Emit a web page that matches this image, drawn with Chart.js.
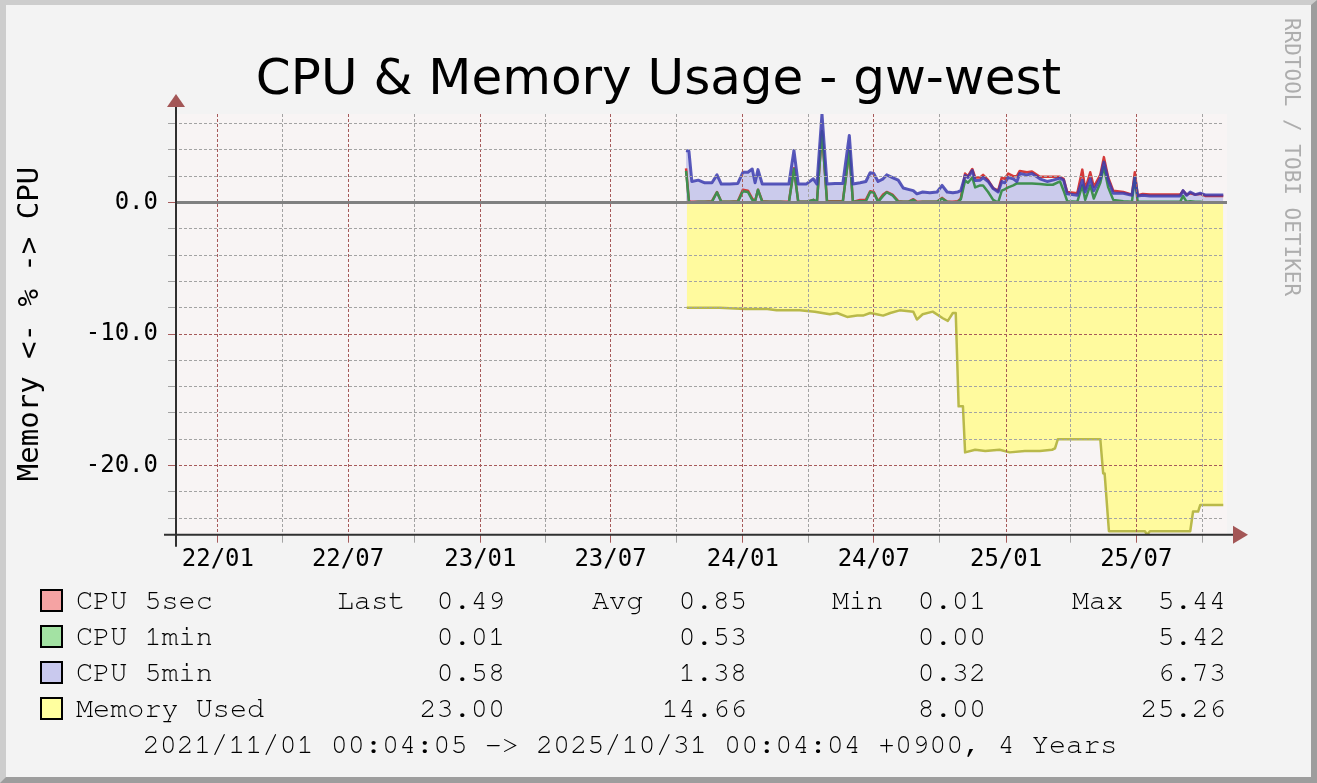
<!DOCTYPE html>
<html>
<head>
<meta charset="utf-8">
<title>CPU &amp; Memory Usage - gw-west</title>
<script src="https://cdn.jsdelivr.net/npm/chart.js@4.4.1/dist/chart.umd.min.js"></script>
<style>
  html, body { margin: 0; padding: 0; }
  body { width: 1317px; height: 783px; overflow: hidden; background: #f3f3f3; position: relative; }
  #frame {
    position: absolute; left: 0; top: 0; width: 1305px; height: 772px;
    border-style: solid; border-width: 5px 6px 6px 6px;
    border-color: #cdcdcd #9d9d9d #9d9d9d #cdcdcd; background: #f3f3f3;
  }
  #c { position: absolute; left: 0; top: 0; }
  .txt { position: absolute; white-space: pre; color: #000; }
  .title { left: 0; width: 1317px; top: 48px; height: 60px; line-height: 60px; text-align: center;
    font: 50px "DejaVu Sans", sans-serif; }
  .ylabel { left: -169px; top: 304px; width: 400px; height: 40px; line-height: 40px; text-align: center;
    font: 29px "DejaVu Sans Mono", monospace; transform: rotate(-90deg); }
  .wmark { left: 1084px; top: 137px; width: 400px; height: 40px; line-height: 40px; text-align: center;
    font: 21px "DejaVu Sans Mono", monospace; color: #adadad; transform: rotate(90deg); }
  .leg { font-size: 28.5px; font-family: "Nimbus Mono PS", "Nimbus Mono L", "FreeMono", "Courier New", "Courier", "Liberation Mono", monospace;
    height: 36px; line-height: 36px; }
  .sw { position: absolute; width: 19px; height: 19px; border: 2.5px solid #000; }
</style>
</head>
<body>
<div id="frame"></div>
<canvas id="c" width="1317" height="783"></canvas>
<div class="txt title">CPU &amp; Memory Usage - gw-west</div>
<div class="txt ylabel">Memory &lt;- % -&gt; CPU</div>
<div class="txt wmark">RRDTOOL / TOBI OETIKER</div>
<div id="legend"></div>
<script>
  "use strict";

  // days counted from 2021/11/01
  var xMax = 1460;
  var xMajorTicks = [61, 242, 426, 607, 791, 973, 1157, 1338];
  var xMajorLabels = ['22/01', '22/07', '23/01', '23/07', '24/01', '24/07', '25/01', '25/07'];
  var xMinorTicks = [151, 334, 516, 699, 882, 1065, 1247, 1430];

  var yMin = -25.26, yMax = 6.73;
  var yMajorTicks = [-20, -10, 0];
  var yMinorTicks = [-24, -22, -18, -16, -14, -12, -8, -6, -4, -2, 2, 4, 6];

  var cpuDays = [712, 716, 720, 729, 738, 748, 755, 761, 773, 784, 791, 798, 804, 808, 812, 818, 829, 843, 855, 862,
    868, 879, 889, 894, 901, 908, 919, 930, 939, 944, 954, 962, 968, 973, 979, 986, 991, 999, 1007, 1014,
    1021, 1028, 1033, 1041, 1051, 1061, 1068, 1075, 1083, 1090, 1094, 1100, 1104, 1110, 1114, 1121, 1125, 1132, 1139, 1146,
    1151, 1155, 1160, 1167, 1172, 1176, 1186, 1193, 1204, 1214, 1222, 1232, 1237, 1242, 1256, 1263, 1267, 1274, 1279, 1288,
    1293, 1299, 1306, 1320, 1332, 1336, 1340, 1347, 1357, 1378, 1399, 1403, 1408, 1413, 1420, 1427, 1434, 1459];
  var cpu5min = [3.95, 3.9, 1.6, 1.7, 1.5, 1.5, 2.1, 1.4, 1.4, 1.45, 2.3, 2.3, 2.55, 1.5, 2.5, 1.4, 1.4, 1.4, 1.4, 3.95,
    1.4, 1.4, 1.8, 1.4, 6.73, 1.4, 1.45, 1.45, 5.1, 1.4, 1.5, 1.6, 2.26, 2.2, 1.6, 1.8, 2.1, 1.9, 1.7, 1.1,
    1.0, 0.9, 0.66, 0.8, 0.75, 0.8, 1.3, 0.8, 0.75, 0.8, 0.9, 2.05, 1.9, 2.43, 1.67, 1.7, 1.9, 1.6, 1.06, 0.8,
    1.6, 1.5, 1.9, 1.8, 1.6, 2.2, 2.1, 2.2, 1.8, 1.6, 1.7, 1.85, 1.7, 0.66, 0.55, 1.7, 0.8, 1.8, 0.9, 1.85,
    3.07, 1.7, 0.7, 0.7, 0.55, 1.9, 0.5, 0.55, 0.5, 0.5, 0.5, 0.9, 0.55, 0.8, 0.6, 0.7, 0.58, 0.58];
  var cpu5sec = [2.6, 0.1, 0.05, 0.05, 0.05, 0.1, 0.8, 0.05, 0.05, 0.1, 0.97, 0.9, 0.3, 0.1, 0.97, 0.1, 0.05, 0.05, 0.05, 2.6,
    0.05, 0.05, 0.2, 0.05, 5.44, 0.1, 0.1, 0.1, 3.95, 0.05, 0.2, 0.2, 0.85, 0.8, 0.1, 0.6, 0.8, 0.6, 0.1, 0.05,
    0.05, 0.25, 0.05, 0.05, 0.05, 0.05, 0.35, 0.05, 0.05, 0.1, 0.3, 2.2, 2.0, 2.55, 1.9, 1.9, 2.1, 1.7, 1.1, 0.9,
    1.9, 1.8, 2.2, 2.0, 2.0, 2.4, 2.3, 2.35, 1.95, 1.95, 1.95, 1.95, 1.8, 0.8, 0.7, 2.5, 1.0, 2.3, 1.2, 2.1,
    3.45, 1.9, 0.9, 0.8, 0.6, 2.3, 0.55, 0.65, 0.6, 0.6, 0.6, 0.9, 0.6, 0.7, 0.6, 0.65, 0.5, 0.49];
  var cpu1min = [2.4, 0.05, 0.0, 0.05, 0.05, 0.05, 0.78, 0.05, 0.05, 0.05, 0.86, 0.8, 0.2, 0.1, 0.97, 0.05, 0.05, 0.05, 0.0, 2.55,
    0.05, 0.05, 0.2, 0.05, 5.42, 0.05, 0.05, 0.05, 3.95, 0.05, 0.1, 0.1, 0.8, 0.75, 0.05, 0.5, 0.78, 0.55, 0.05, 0.05,
    0.05, 0.2, 0.0, 0.05, 0.05, 0.05, 0.3, 0.05, 0.0, 0.05, 0.24, 1.67, 1.5, 1.9, 1.15, 1.3, 1.3, 0.8, 0.2, 0.0,
    0.9, 1.0, 1.15, 1.3, 1.45, 1.45, 1.45, 1.45, 1.4, 1.35, 1.35, 1.6, 0.9, 0.1, 0.05, 1.3, 0.2, 1.3, 0.3, 1.5,
    2.7, 1.15, 0.2, 0.1, 0.05, 1.9, 0.05, 0.05, 0.05, 0.05, 0.05, 0.5, 0.05, 0.1, 0.05, 0.05, 0.01, 0.01];

  var memDays = [713, 759, 794, 825, 838, 870, 891, 912, 922, 936, 950, 958, 968, 977, 986, 996, 1009, 1028, 1033, 1041,
    1055, 1069, 1076, 1083, 1087, 1091, 1097, 1100, 1114, 1128, 1148, 1162, 1183, 1204, 1221, 1225, 1229, 1260, 1288, 1292,
    1294, 1300, 1350, 1353, 1357, 1413, 1417, 1424, 1427, 1459];
  var memUsed = [8.0, 8.0, 8.1, 8.1, 8.2, 8.2, 8.3, 8.5, 8.4, 8.7, 8.6, 8.6, 8.4, 8.5, 8.6, 8.4, 8.2, 8.3, 8.9, 8.5,
    8.3, 8.8, 9.0, 8.4, 8.4, 15.5, 15.5, 19.0, 18.8, 18.9, 18.8, 19.0, 18.9, 18.9, 18.8, 18.7, 18.0, 18.0, 18.0, 20.6,
    20.6, 25.0, 25.0, 25.26, 25.0, 25.0, 23.5, 23.5, 23.0, 23.0];

  var legendNames = ['CPU 5sec', 'CPU 1min', 'CPU 5min', 'Memory Used'];
  var lastVals = ['0.49', '0.01', '0.58', '23.00'];
  var avgVals = ['0.85', '0.53', '1.38', '14.66'];
  var minVals = ['0.01', '0.00', '0.32', '8.00'];
  var maxVals = ['5.44', '5.42', '6.73', '25.26'];
  var periodText = '2021/11/01 00:04:05 -> 2025/10/31 00:04:04 +0900, 4 Years';

  var swatchColors = ['#f5a3a3', '#a3e2a3', '#c9c9ee', '#ffff9f'];
  var majorColor = '#a65a5a';
  var minorColor = '#a3a3a3';

  // legend block under the graph
  var $legend = document.getElementById('legend');
  function addText(text, left, top, cls, right) {
    var el = document.createElement('div');
    el.className = 'txt ' + cls;
    el.textContent = text;
    if (right) {
      el.style.right = (1317 - left) + 'px';
      el.style.textAlign = 'right';
    } else {
      el.style.left = left + 'px';
    }
    el.style.top = top + 'px';
    $legend.appendChild(el);
    return el;
  }
  var statCols = [
    { label: 'Last', at: 337, end: 505, vals: lastVals },
    { label: 'Avg', at: 592, end: 747, vals: avgVals },
    { label: 'Min', at: 832, end: 986, vals: minVals },
    { label: 'Max', at: 1072, end: 1226, vals: maxVals }
  ];
  legendNames.forEach(function (name, i) {
    var cy = 601 + i * 36;
    var sw = document.createElement('div');
    sw.className = 'sw';
    sw.style.left = '40px';
    sw.style.top = (cy - 12) + 'px';
    sw.style.background = swatchColors[i];
    $legend.appendChild(sw);
    addText(name, 76, cy - 18, 'leg');
    statCols.forEach(function (col) {
      if (i === 0) addText(col.label, col.at, cy - 18, 'leg');
      addText(col.vals[i], col.end, cy - 18, 'leg', true);
    });
  });
  var footer = addText(periodText, 0, 745 - 18, 'leg');
  footer.style.width = '1260px';
  footer.style.textAlign = 'center';

  function points(days, values, sign) {
    return days.map(function (d, i) {
      return { x: d, y: sign * values[i] };
    });
  }

  var rrdFrame = {
    id: 'rrdFrame',
    beforeDraw: function (chart) {
      var a = chart.chartArea, ctx = chart.ctx;
      ctx.save();
      ctx.fillStyle = '#f8f4f4';
      ctx.fillRect(a.left, a.top, a.right - a.left + 3, a.bottom - a.top);
      ctx.restore();
    },
    afterDraw: function (chart) {
      var a = chart.chartArea, ctx = chart.ctx;
      var y0 = chart.scales.y.getPixelForValue(0);
      var ax = a.left + 2, ay = a.bottom;
      ctx.save();
      ctx.strokeStyle = '#808080';
      ctx.lineWidth = 3;
      ctx.beginPath();
      ctx.moveTo(ax, y0);
      ctx.lineTo(a.right + 3, y0);
      ctx.stroke();

      ctx.strokeStyle = '#303030';
      ctx.lineWidth = 2;
      ctx.beginPath();
      ctx.moveTo(ax, a.top - 7);
      ctx.lineTo(ax, ay + 12);
      ctx.moveTo(a.left - 10, ay);
      ctx.lineTo(a.right + 9, ay);
      ctx.stroke();

      ctx.fillStyle = '#a35656';
      ctx.beginPath();
      ctx.moveTo(ax, a.top - 20);
      ctx.lineTo(ax - 9, a.top - 7);
      ctx.lineTo(ax + 9, a.top - 7);
      ctx.closePath();
      ctx.fill();
      ctx.beginPath();
      ctx.moveTo(a.right + 24, ay);
      ctx.lineTo(a.right + 9, ay - 9);
      ctx.lineTo(a.right + 9, ay + 9);
      ctx.closePath();
      ctx.fill();
      ctx.restore();
    }
  };

  var ctxChart = document.getElementById('c').getContext('2d');
  var chart = new Chart(ctxChart, {
    type: 'line',
    data: {
      datasets: [
        {
          label: 'CPU 5min',
          data: points(cpuDays, cpu5min, 1),
          borderColor: 'rgba(60, 60, 175, 0.85)',
          backgroundColor: '#cbcbec',
          fill: 'origin',
          borderWidth: 3,
          order: 1
        },
        {
          label: 'CPU 1min',
          data: points(cpuDays, cpu1min, 1),
          borderColor: '#3f8f4f',
          fill: false,
          borderWidth: 2.5,
          order: 2
        },
        {
          label: 'CPU 5sec',
          data: points(cpuDays, cpu5sec, 1),
          borderColor: '#d43a3a',
          fill: false,
          borderWidth: 2.5,
          order: 3
        },
        {
          label: 'Memory Used',
          data: points(memDays, memUsed, -1),
          borderColor: '#b9b94a',
          backgroundColor: '#fffa9e',
          fill: 'origin',
          borderWidth: 2.5,
          order: 4
        }
      ]
    },
    options: {
      responsive: false,
      devicePixelRatio: 1,
      animation: false,
      events: [],
      layout: { padding: { top: 114, right: 93, left: 0, bottom: 0 } },
      elements: {
        point: { radius: 0 },
        line: { tension: 0, borderJoinStyle: 'round' }
      },
      scales: {
        x: {
          type: 'linear',
          min: 0,
          max: xMax,
          afterBuildTicks: function (scale) {
            scale.ticks = xMajorTicks.concat(xMinorTicks).sort(function (a, b) { return a - b; })
              .map(function (v) { return { value: v }; });
          },
          afterFit: function (scale) { scale.height = 248.3; },
          grid: {
            z: 1,
            lineWidth: 1,
            tickLength: 8,
            color: function (c) {
              return c.tick && xMajorTicks.indexOf(c.tick.value) >= 0 ? majorColor : minorColor;
            }
          },
          border: { display: false, dash: [3, 2] },
          ticks: {
            autoSkip: false,
            maxRotation: 0,
            padding: 3,
            color: '#000',
            font: { family: '"DejaVu Sans Mono", monospace', size: 24 },
            callback: function (value) {
              var i = xMajorTicks.indexOf(value);
              return i >= 0 ? xMajorLabels[i] : '';
            }
          }
        },
        y: {
          type: 'linear',
          min: yMin,
          max: yMax,
          afterBuildTicks: function (scale) {
            scale.ticks = yMajorTicks.concat(yMinorTicks).sort(function (a, b) { return a - b; })
              .map(function (v) { return { value: v }; });
          },
          afterFit: function (scale) { scale.width = 174; },
          grid: {
            z: 1,
            lineWidth: 1,
            tickLength: 6,
            color: function (c) {
              return c.tick && yMajorTicks.indexOf(c.tick.value) >= 0 ? majorColor : minorColor;
            }
          },
          border: { display: false, dash: [3, 2] },
          ticks: {
            autoSkip: false,
            padding: 10,
            color: '#000',
            font: { family: '"DejaVu Sans Mono", monospace', size: 24 },
            callback: function (value) {
              return yMajorTicks.indexOf(value) >= 0 ? value.toFixed(1) : '';
            }
          }
        }
      },
      plugins: {
        legend: { display: false },
        tooltip: { enabled: false },
        filler: { drawTime: 'beforeDatasetsDraw' }
      }
    },
    plugins: [rrdFrame]
  });
</script>
</body>
</html>
